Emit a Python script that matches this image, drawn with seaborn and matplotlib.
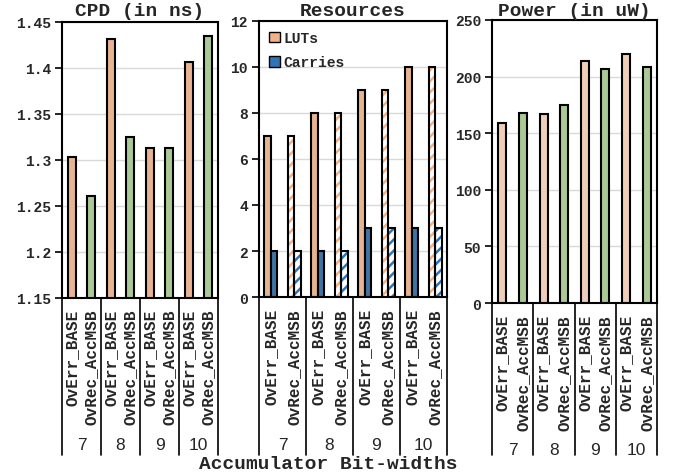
import matplotlib
matplotlib.use("Agg")
import matplotlib.pyplot as plt
from matplotlib.patches import Patch, Rectangle
from matplotlib.transforms import blended_transform_factory
import pandas as pd
import seaborn as sns

# --- data ---
widths = ["7", "8", "9", "10"]
configs = ["OvErr_BASE", "OvRec_AccMSB"]
cpd = [1.303, 1.261, 1.432, 1.325, 1.313, 1.313, 1.406, 1.435]
luts = [7, 7, 8, 8, 9, 9, 10, 10]
carries = [2, 2, 2, 2, 3, 3, 3, 3]
power = [159, 168, 167, 175, 213.5, 207, 220, 208.5]

keys = [f"{w} {c}" for w in widths for c in configs]
cfg_of_key = [c for w in widths for c in configs]

ORANGE = "#f4b183"
ORANGE_LT = "#f8cbad"
GREEN = "#a9d18e"
BLUE = "#2e75b6"
GRID = "#d9d9d9"

sns.set_theme(style="white")
plt.rcParams["font.family"] = ["Liberation Mono", "DejaVu Sans Mono"]
plt.rcParams["font.weight"] = "bold"
plt.rcParams["hatch.linewidth"] = 1.8

W, H = 675, 477
fig = plt.figure(figsize=(W / 100, H / 100), dpi=100)


def add_ax(left, right, top, bottom):
    return fig.add_axes([left / W, 1 - bottom / H, (right - left) / W, (bottom - top) / H])


def style_axes(ax, ylim, step, title, num_y):
    lo, hi = ylim
    ticks = []
    v = lo
    while v <= hi + 1e-9:
        ticks.append(round(v, 4))
        v += step
    ax.set_ylim(lo, hi)
    ax.set_yticks(ticks)
    ax.set_xlim(-0.5, 7.5)
    ax.yaxis.grid(True, color=GRID, linewidth=1)
    ax.set_axisbelow(True)
    for sp in ax.spines.values():
        sp.set_color("black")
        sp.set_linewidth(1.5)
    ax.tick_params(axis="y", length=5, width=1.2, color="black", labelsize=10.5, pad=3, left=True)
    ax.set_xticks(range(len(keys)))
    ax.set_xticklabels(cfg_of_key, rotation=90, fontsize=11.5, fontweight="bold")
    ax.tick_params(axis="x", length=0, pad=8)
    ax.set_xlabel("")
    ax.set_ylabel("")
    # multi-level category axis: separators and group numbers
    tr = blended_transform_factory(ax.transData, fig.transFigure)
    bottom_frac = ax.get_position().y0
    for b in [-0.5, 1.5, 3.5, 5.5, 7.5]:
        ax.plot([b, b], [bottom_frac, 1 - 456 / H], color="black", lw=1.2,
                transform=tr, clip_on=False)
    for i, w in enumerate(widths):
        ax.text(2 * i + 0.5, 1 - num_y / H, w, transform=tr, ha="center", va="center",
                fontsize=12.5, fontweight="normal", family="Liberation Sans")
    pos = ax.get_position()
    fig.text((pos.x0 + pos.x1) / 2, 1 - 12 / H, title, ha="center", va="center",
             fontsize=14, fontweight="bold")


# --- CPD ---
ax1 = add_ax(62, 218, 23, 298.5)
df1 = pd.DataFrame({"key": keys, "cfg": cfg_of_key, "val": cpd})
sns.barplot(data=df1, x="key", y="val", hue="cfg", order=keys,
            palette={configs[0]: ORANGE, configs[1]: GREEN}, dodge=False,
            width=0.41, edgecolor="black", linewidth=1.5, legend=False, ax=ax1)
style_axes(ax1, (1.15, 1.45), 0.05, "CPD (in ns)", 446)
ax1.set_yticklabels(["1.15", "1.2", "1.25", "1.3", "1.35", "1.4", "1.45"])

# --- Resources ---
ax2 = add_ax(259, 447, 22, 298)
df2 = pd.DataFrame({
    "key": keys * 2,
    "res": ["LUTs"] * len(keys) + ["Carries"] * len(keys),
    "val": luts + carries,
})
sns.barplot(data=df2, x="key", y="val", hue="res", order=keys,
            hue_order=["LUTs", "Carries"], palette={"LUTs": ORANGE, "Carries": BLUE},
            width=0.56, gap=0, edgecolor="black", linewidth=1.5, ax=ax2)
for cont, col in zip(ax2.containers, [ORANGE, BLUE]):
    for bar, cfg in zip(cont, cfg_of_key):
        if cfg == configs[1]:
            bar.set_facecolor("white")
            bar.set_edgecolor(col)
            bar.set_hatch("///")
            bar.set_linewidth(0)
            ax2.add_patch(Rectangle(bar.get_xy(), bar.get_width(), bar.get_height(),
                                    fill=False, edgecolor="black", linewidth=1.5, zorder=bar.get_zorder() + 0.1))
style_axes(ax2, (0, 12), 2, "Resources", 445)
ax2.legend(handles=[Patch(facecolor=ORANGE, edgecolor="black", lw=1),
                    Patch(facecolor=BLUE, edgecolor="black", lw=1)],
           labels=["LUTs", "Carries"], loc="upper left", frameon=False,
           handlelength=0.75, handleheight=0.75, handletextpad=0.2,
           labelspacing=0.7, borderaxespad=0.3, prop={"size": 10.5, "weight": "bold"})

# --- Power ---
ax3 = add_ax(492, 657, 21, 304)
df3 = pd.DataFrame({"key": keys, "cfg": cfg_of_key, "val": power})
sns.barplot(data=df3, x="key", y="val", hue="cfg", order=keys,
            palette={configs[0]: ORANGE_LT, configs[1]: GREEN}, dodge=False,
            width=0.39, edgecolor="black", linewidth=1.5, legend=False, ax=ax3)
style_axes(ax3, (0, 250), 50, "Power (in uW)", 451)

fig.text(328 / W, 1 - 465 / H, "Accumulator Bit-widths", ha="center", va="center",
         fontsize=14, fontweight="bold")

fig.savefig("out.png", dpi=100)
